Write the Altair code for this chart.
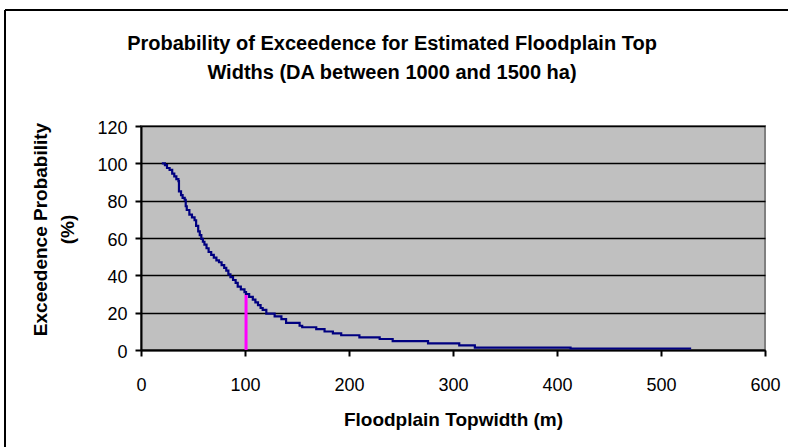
import altair as alt
import pandas as pd

# Step exceedance curve (floodplain topwidth in m, exceedance probability in %)
widths = [20, 23, 25, 27.5, 30, 32, 34, 36, 36.5, 38.5, 40, 42, 43, 44, 46.5, 49, 51.5, 53, 55,
          56.5, 58, 59.5, 61, 63, 65, 67.5, 70, 72.5, 75, 77.5, 80, 82, 84, 86, 88.5, 91, 93, 96,
          99.5, 101, 104, 107.5, 110, 112.5, 115, 117, 120.5, 128.5, 135, 139.5, 152.5, 155,
          168.5, 176.5, 184.5, 192.5, 210, 229.5, 242, 276, 306, 321, 413, 529]
probs = [100, 99, 97.5, 96.5, 94.5, 93, 91.5, 90.5, 85, 83, 81.5, 80.5, 77, 75, 72.5, 71, 69.5,
         66.5, 63.5, 61.5, 59.5, 58, 56.5, 54.5, 52.5, 51, 49.5, 48, 47, 45.5, 44, 42.5, 40.5,
         39, 37.5, 36, 34, 32.5, 31, 30, 28.5, 27, 25.5, 24, 22.5, 21.5, 19.5, 18, 16.5, 14.5,
         13, 12.2, 11.2, 9.9, 8.9, 7.9, 6.8, 5.9, 4.8, 3.6, 2.5, 1.3, 0.8, 0.8]

# Marker at 100 m
marker_x = [101]
marker_y = [30]

x_ticks = [0, 100, 200, 300, 400, 500, 600]
y_ticks = [0, 20, 40, 60, 80, 100, 120]

title_lines = ["Probability of Exceedence for Estimated Floodplain Top",
               "Widths (DA between 1000 and 1500 ha)"]

FONT = "Liberation Sans"

curve_df = pd.DataFrame({"w": widths, "p": probs})
marker_df = pd.DataFrame({"w": marker_x, "p": marker_y, "p0": [0]})
dummy = pd.DataFrame({"a": [0]})

xscale = alt.Scale(domain=[0, 600], nice=False)
yscale = alt.Scale(domain=[0, 120], nice=False)

xaxis = alt.Axis(values=x_ticks, title="Floodplain Topwidth (m)", grid=False,
                 domainColor="black", domainWidth=2, tickColor="black", tickWidth=2,
                 tickSize=6, labelFont=FONT, labelFontSize=18, labelColor="black",
                 labelPadding=20, titleFont=FONT, titleFontSize=19, titleFontWeight="bold",
                 titleColor="black", titlePadding=16, labelFlush=False, labelOverlap=False)
yaxis = alt.Axis(values=y_ticks, tickCount=7, title=["Exceedence Probability", "(%)"],
                 grid=True, gridColor="black", gridWidth=1.5, domainColor="black",
                 domainWidth=2, tickColor="black", tickWidth=2, tickSize=6, labelFont=FONT,
                 labelFontSize=18, labelColor="black", labelPadding=8, labelOffset=2,
                 titleFont=FONT, titleFontSize=19, titleFontWeight="bold",
                 titleColor="black", titleLineHeight=27, titleAngle=-90,
                 titleBaseline="middle", titleAlign="center", titleX=-101, titleY=103,
                 labelFlush=False, labelOverlap=False)

marker = alt.Chart(marker_df).mark_rule(color="#FF00FF", strokeWidth=3).encode(
    x=alt.X("w:Q", scale=xscale, axis=xaxis),
    y=alt.Y("p0:Q", scale=yscale, axis=yaxis),
    y2="p:Q",
)

curve = alt.Chart(curve_df).mark_line(color="#000080", strokeWidth=2.2,
                                      interpolate="step-after").encode(
    x=alt.X("w:Q", scale=xscale, axis=xaxis),
    y=alt.Y("p:Q", scale=yscale, axis=yaxis),
)

frame_left = alt.Chart(dummy).mark_rule(color="black", strokeWidth=2).encode(
    x=alt.value(-136), y=alt.value(-116), y2=alt.value(340))
frame_top = alt.Chart(dummy).mark_rule(color="black", strokeWidth=2).encode(
    x=alt.value(-136), x2=alt.value(670), y=alt.value(-116))

title1 = alt.Chart(dummy).mark_text(font=FONT, fontSize=20, fontWeight="bold",
                                    color="black", align="center",
                                    baseline="alphabetic").encode(
    x=alt.value(251), y=alt.value(-76), text=alt.value(title_lines[0]))
title2 = alt.Chart(dummy).mark_text(font=FONT, fontSize=20, fontWeight="bold",
                                    color="black", align="center",
                                    baseline="alphabetic").encode(
    x=alt.value(251), y=alt.value(-47), text=alt.value(title_lines[1]))

chart = alt.layer(marker, curve, frame_left, frame_top, title1, title2).properties(
    width=624, height=224,
    autosize=alt.AutoSizeParams(type="none"),
    padding={"left": 141, "top": 126, "right": 23, "bottom": 97},
    background="white",
).configure_view(fill="#C0C0C0", stroke="#808080", strokeWidth=2)

chart.save("out.html", embed_options={"renderer": "svg", "actions": False})
